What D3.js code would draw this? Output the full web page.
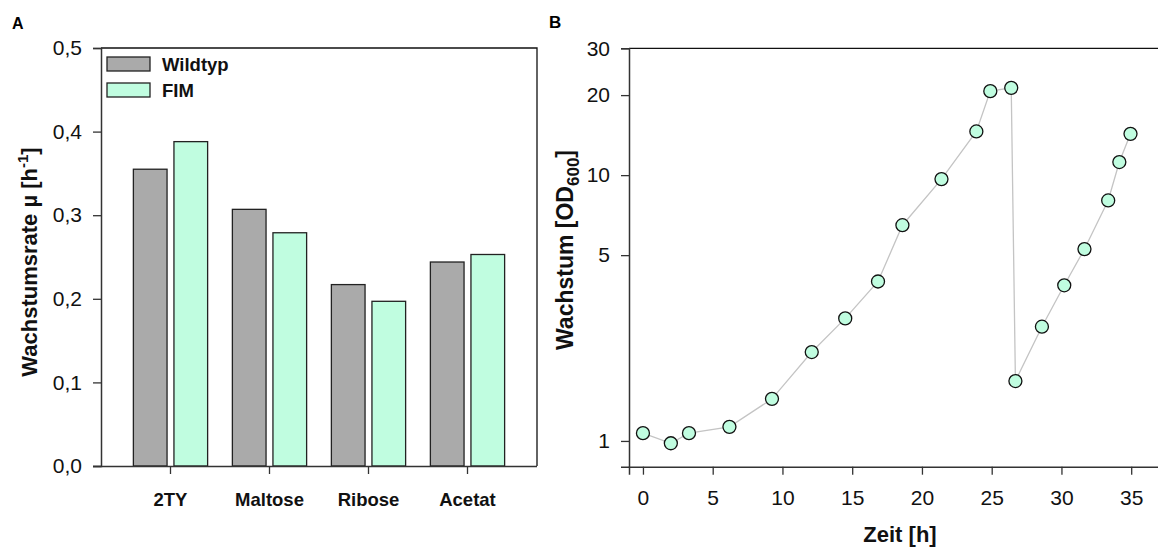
<!DOCTYPE html>
<html>
<head>
<meta charset="utf-8">
<script src="https://cdn.jsdelivr.net/npm/d3@7"></script>
<style>
  html, body { margin: 0; padding: 0; background: #fff; }
  svg { display: block; font-family: "Liberation Sans", Arial, sans-serif; }
</style>
</head>
<body>
<svg id="chart" width="1158" height="548"></svg>
<script>
// ---- Data: panel A ----
const categories = ["2TY", "Maltose", "Ribose", "Acetat"];
const seriesNames = ["Wildtyp", "FIM"];
const wildtypValues = [0.355, 0.307, 0.217, 0.244];
const fimValues = [0.388, 0.279, 0.197, 0.253];
const yTicksA = [0, 0.1, 0.2, 0.3, 0.4, 0.5];

// ---- Data: panel B ----
const timeH = [0, 2.0, 3.3, 6.2, 9.25, 12.1, 14.5, 16.85, 18.6, 21.4, 23.9, 24.9, 26.4, 26.7, 28.6, 30.2, 31.65, 33.35, 34.15, 34.95];
const od600 = [1.07, 0.98, 1.07, 1.13, 1.44, 2.16, 2.89, 3.98, 6.48, 9.66, 14.6, 20.7, 21.3, 1.68, 2.69, 3.85, 5.27, 8.03, 11.2, 14.3];
const xTicksB = [0, 5, 10, 15, 20, 25, 30, 35];
const yTicksB = [1, 5, 10, 20, 30];

const colors = { Wildtyp: "#aaaaaa", FIM: "#c0fde0" };
const svg = d3.select("#chart");
const axisColor = "#333";

// ================= Panel A =================
const A = { left: 101, right: 537, top: 48, bottom: 466 };
const xA = d3.scaleBand(categories, [A.left, A.right]).paddingInner(0.25).paddingOuter(0.327);
const xSub = d3.scaleBand(seriesNames, [0, xA.bandwidth()]).paddingInner(0.17);
const yA = d3.scaleLinear([0, 0.5], [A.bottom, A.top]);

const gA = svg.append("g");
const rows = categories.map((c, i) => ({ cat: c, Wildtyp: wildtypValues[i], FIM: fimValues[i] }));
gA.selectAll("g.grp").data(rows).join("g")
  .attr("transform", d => `translate(${xA(d.cat)},0)`)
  .selectAll("rect").data(d => seriesNames.map(s => ({ s, v: d[s] }))).join("rect")
  .attr("x", d => xSub(d.s))
  .attr("width", xSub.bandwidth())
  .attr("y", d => yA(d.v))
  .attr("height", d => yA(0) - yA(d.v))
  .attr("fill", d => colors[d.s])
  .attr("stroke", "#222")
  .attr("stroke-width", 1.3);

gA.append("path")
  .attr("d", `M${A.left},${A.top}H${A.right}V${A.bottom}`)
  .attr("fill", "none").attr("stroke", "#111").attr("stroke-width", 1.3);

const yAxisA = gA.append("g").attr("transform", `translate(${A.left},0)`)
  .call(d3.axisLeft(yA).tickValues(yTicksA).tickFormat(d => d3.format(".1f")(d).replace(".", ","))
    .tickSizeOuter(0).tickSize(8).tickPadding(11));
const xAxisA = gA.append("g").attr("transform", `translate(0,${A.bottom})`)
  .call(d3.axisBottom(xA).tickSizeOuter(0).tickSize(8).tickPadding(19));
xAxisA.select(".domain").attr("d", `M${A.left - 8},0.5H${A.right}`);

[yAxisA, xAxisA].forEach(ax => {
  ax.select(".domain").attr("stroke", axisColor).attr("stroke-width", 1.5);
  ax.selectAll(".tick line").attr("stroke", axisColor).attr("stroke-width", 1.3);
});
yAxisA.selectAll(".tick text").attr("font-size", 21).attr("fill", "#111")
  .attr("font-family", "Liberation Sans, Arial, sans-serif");
xAxisA.selectAll(".tick text").attr("font-size", 18.5).attr("font-weight", "bold").attr("fill", "#111")
  .attr("font-family", "Liberation Sans, Arial, sans-serif");

const ylabA = gA.append("text")
  .attr("transform", `translate(37,262) rotate(-90)`)
  .attr("text-anchor", "middle").attr("font-size", 22).attr("font-weight", "bold").attr("fill", "#111");
ylabA.append("tspan").text("Wachstumsrate µ [h");
ylabA.append("tspan").attr("font-size", 15).attr("dy", -9).text("-1");
ylabA.append("tspan").attr("dy", 9).text("]");

const leg = gA.append("g");
seriesNames.forEach((s, i) => {
  const y0 = 57 + i * 26;
  leg.append("rect").attr("x", 107).attr("y", y0).attr("width", 43).attr("height", 14)
    .attr("fill", colors[s]).attr("stroke", "#222").attr("stroke-width", 1.3);
  leg.append("text").attr("x", 162).attr("y", y0 + 7).attr("dominant-baseline", "central")
    .attr("font-size", 18.5).attr("font-weight", "bold").attr("fill", "#111").text(s);
});

svg.append("text").attr("x", 12).attr("y", 29).attr("font-size", 16).attr("font-weight", "bold").text("A");

// ================= Panel B =================
const B = { left: 629, right: 1158, top: 48.3, bottom: 466.7 };
const xB = d3.scaleLinear([-1, 37], [B.left, B.left + 38 * 13.95]);
const yB = d3.scaleLog([0.8, 30], [B.bottom, B.top]);
const gB = svg.append("g");

gB.append("line").attr("x1", B.left).attr("x2", B.right).attr("y1", B.top).attr("y2", B.top)
  .attr("stroke", "#111").attr("stroke-width", 1.3);

const yAxisB = gB.append("g").attr("transform", `translate(${B.left},0)`)
  .call(d3.axisLeft(yB).tickValues(yTicksB).tickFormat(d3.format("d"))
    .tickSizeOuter(0).tickSize(8).tickPadding(11));
const xAxisB = gB.append("g").attr("transform", `translate(0,${B.bottom})`)
  .call(d3.axisBottom(xB).tickValues(xTicksB).tickFormat(d3.format("d"))
    .tickSizeOuter(0).tickSize(8).tickPadding(15));
[yAxisB, xAxisB].forEach(ax => {
  ax.select(".domain").attr("stroke", axisColor).attr("stroke-width", 1.5);
  ax.selectAll(".tick line").attr("stroke", axisColor).attr("stroke-width", 1.3);
  ax.selectAll(".tick text").attr("font-size", 21).attr("fill", "#111")
    .attr("font-family", "Liberation Sans, Arial, sans-serif");
});

const pts = timeH.map((t, i) => ({ t, v: od600[i] }));
gB.append("path").datum(pts)
  .attr("d", d3.line().x(d => xB(d.t)).y(d => yB(d.v)))
  .attr("fill", "none").attr("stroke", "#c4c4c4").attr("stroke-width", 1.3);
gB.selectAll("circle").data(pts).join("circle")
  .attr("cx", d => xB(d.t)).attr("cy", d => yB(d.v)).attr("r", 6.5)
  .attr("fill", colors.FIM).attr("stroke", "#111").attr("stroke-width", 1.3);

gB.append("text").attr("x", 900).attr("y", 542).attr("text-anchor", "middle")
  .attr("font-size", 22).attr("font-weight", "bold").attr("fill", "#111").text("Zeit [h]");
const ylabB = gB.append("text")
  .attr("transform", `translate(573,250) rotate(-90)`)
  .attr("text-anchor", "middle").attr("font-size", 23).attr("font-weight", "bold").attr("fill", "#111");
ylabB.append("tspan").text("Wachstum [OD");
ylabB.append("tspan").attr("font-size", 17).attr("dy", 6).text("600");
ylabB.append("tspan").attr("dy", -6).text("]");

svg.append("text").attr("x", 549).attr("y", 28).attr("font-size", 17).attr("font-weight", "bold").text("B");
</script>
</body>
</html>
